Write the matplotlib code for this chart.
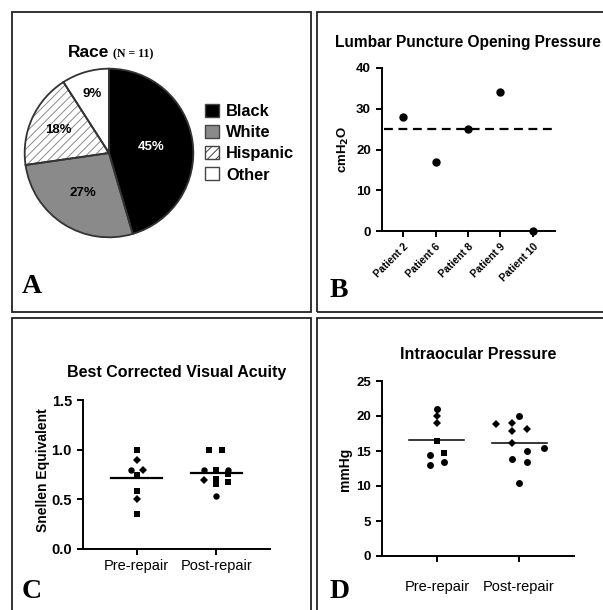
import matplotlib
matplotlib.use('Agg')
import matplotlib.pyplot as plt
from matplotlib.patches import Rectangle, Patch
import numpy as np

plt.rcParams['font.family'] = ['Liberation Sans', 'DejaVu Sans']
plt.rcParams['hatch.linewidth'] = 0.7

# --- dados ---
race_labels = ['Black', 'White', 'Hispanic', 'Other']
race_counts = [5, 3, 2, 1]          # N = 11

lp_patients = ['Patient 2', 'Patient 6', 'Patient 8', 'Patient 9', 'Patient 10']
lp_pressure = [28, 17, 25, 34, 0]   # cmH2O
lp_cutoff = 25

groups = ['Pre-repair', 'Post-repair']
va_pre = [1.0, 0.9, 0.8, 0.8, 0.75, 0.58, 0.5, 0.35]
va_post = [1.0, 1.0, 0.8, 0.8, 0.8, 0.76, 0.7, 0.69, 0.67, 0.65, 0.53]
iop_pre = [21, 20, 19, 16.4, 14.5, 14.7, 13.0, 13.5]
iop_post = [20, 18.8, 19, 17.9, 18.1, 16.1, 15.4, 15.0, 13.9, 13.5, 10.4]

# --- espalhamento horizontal e marcadores (estilo) ---
va_pre_dx = [0, 0, -0.075, 0.075, 0, 0, 0, 0]
va_post_dx = [-0.09, 0.07, -0.16, 0, 0.14, 0.14, 0, -0.16, 0.14, 0, 0]
va_pre_mk = ['s', 'D', 'o', 'D', 's', 's', 'D', 's']
va_post_mk = ['s', 's', 'o', 's', 'o', 's', 's', 'D', 's', 's', 'o']
iop_pre_dx = [0, 0, 0, 0, -0.085, 0.08, -0.085, 0.08]
iop_post_dx = [0, -0.28, -0.09, -0.09, 0.1, -0.09, 0.3, 0.1, -0.09, 0.1, 0]
iop_pre_mk = ['o', 'D', 'D', 's', 'o', 's', 'o', 'o']
iop_post_mk = ['o', 'D', 'D', 'D', 'D', 'D', 'o', 'o', 'o', 'o', 'o']

W, H = 603, 610


def box(l, t, r, b):
    return [l / W, 1 - b / H, (r - l) / W, (b - t) / H]


def fx(px):
    return px / W


def fy(py):
    return 1 - py / H


fig = plt.figure(figsize=(W / 100, H / 100), dpi=100, facecolor='white')

# molduras dos paineis
for l, t, r, b in [(12, 12, 311, 312), (317, 12, 620, 312),
                   (12, 318, 311, 630), (317, 318, 620, 630)]:
    fig.add_artist(Rectangle((l / W, 1 - b / H), (r - l) / W, (b - t) / H,
                             transform=fig.transFigure, fill=False,
                             lw=1.3, ec='#222222'))

# ==================== A: pizza ====================
ax_a = fig.add_axes(box(23, 67, 195, 239))
colors = ['black', '#8a8a8a', 'white', 'white']
hatches = ['', '', '////', '']
wedges, texts, autotexts = ax_a.pie(race_counts, colors=colors, startangle=90,
                                    counterclock=False, autopct='%1.0f%%',
                                    pctdistance=0.6,
                                    wedgeprops=dict(lw=0, ec='#8a8a8a'))
for w, h in zip(wedges, hatches):
    w.set_hatch(h)
ax_a.pie(race_counts, colors=['none'] * 4, startangle=90, counterclock=False,
         wedgeprops=dict(lw=1.3, ec='#333333'))
label_r = [0.51, 0.57, 0.66, 0.73]
for w, t, r in zip(wedges, autotexts, label_r):
    ang = np.deg2rad((w.theta1 + w.theta2) / 2)
    t.set_position((r * np.cos(ang), r * np.sin(ang)))
    t.set_fontsize(9.5)
    t.set_fontweight('bold')
autotexts[0].set_color('white')
ax_a.set_xlim(-1.02, 1.02)
ax_a.set_ylim(-1.02, 1.02)
ax_a.set_aspect('equal')

handles = [Patch(facecolor=c, edgecolor='#444444', hatch=h, lw=1.0)
           for c, h in zip(['black', '#8a8a8a', 'white', 'white'], hatches)]
fig.legend(handles, race_labels, loc='upper left',
           bbox_to_anchor=(fx(205), fy(104)), frameon=False,
           prop=dict(size=11.8, weight='bold'), handlelength=0.85,
           handleheight=0.85, handletextpad=0.45, labelspacing=0.36,
           borderpad=0, borderaxespad=0)

fig.text(fx(68), fy(57), 'Race', fontsize=12.5, fontweight='bold', va='baseline')
fig.text(fx(113), fy(57), '(N = 11)', fontsize=8.5, fontweight='bold',
         family='Liberation Serif', va='baseline')


def style_axes(ax, tick_size):
    for s in ['top', 'right']:
        ax.spines[s].set_visible(False)
    for s in ['left', 'bottom']:
        ax.spines[s].set_linewidth(1.4)
    ax.tick_params(direction='out', length=4.5, width=1.4, labelsize=tick_size)
    for lab in ax.get_yticklabels():
        lab.set_fontweight('bold')


# ==================== B: pressao de abertura ====================
ax_b = fig.add_axes(box(382, 68, 555, 231))
xb = np.arange(1, len(lp_pressure) + 1)
ax_b.plot(xb, lp_pressure, 'o', color='black', ms=5, clip_on=False, zorder=3)
ax_b.axhline(lp_cutoff, xmin=0.01, xmax=0.985, color='black', lw=1.6,
             ls=(0, (4, 2.5)))
ax_b.set_xlim(0.35, 5.68)
ax_b.set_ylim(0, 40)
ax_b.set_yticks([0, 10, 20, 30, 40])
ax_b.set_xticks(xb)
style_axes(ax_b, 9.5)
ax_b.set_xticklabels(lp_patients, rotation=45, ha='right',
                     rotation_mode='anchor', fontsize=7.5, fontweight='bold')
ax_b.tick_params(axis='x', pad=3)
ax_b.set_ylabel('cmH$_\\mathbf{2}$O', fontsize=9.5, fontweight='bold',
                va='center')
ax_b.yaxis.set_label_coords(-0.225, 0.5)
fig.text(fx(468), fy(47), 'Lumbar Puncture Opening Pressure', fontsize=11.2,
         fontweight='bold', ha='center', va='baseline')


def scatter_group(ax, x0, vals, dxs, mks, ms):
    for v, dx, mk in zip(vals, dxs, mks):
        size = ms * 0.85 if mk == 'D' else ms
        ax.plot(x0 + dx, v, mk, color='black', ms=size, mew=0, clip_on=False,
                zorder=3)


# ==================== C: acuidade visual ====================
ax_c = fig.add_axes(box(83, 400, 270, 549))
scatter_group(ax_c, 1, va_pre, va_pre_dx, va_pre_mk, 4.6)
scatter_group(ax_c, 2, va_post, va_post_dx, va_post_mk, 4.6)
for x0, vals in zip([1, 2], [va_pre, va_post]):
    ax_c.plot([x0 - 0.32, x0 + 0.32], [np.mean(vals)] * 2, color='black',
              lw=1.6, zorder=2)
ax_c.set_xlim(0.33, 2.67)
ax_c.set_ylim(0, 1.5)
ax_c.set_yticks([0.0, 0.5, 1.0, 1.5])
ax_c.yaxis.set_major_formatter(matplotlib.ticker.FormatStrFormatter('%.1f'))
ax_c.set_xticks([1, 2])
style_axes(ax_c, 10.5)
ax_c.set_xticklabels(groups, fontsize=10.5)
ax_c.tick_params(axis='x', pad=3)
ax_c.set_ylabel('Snellen Equivalent', fontsize=10, fontweight='bold', va='center')
ax_c.yaxis.set_label_coords(-0.214, 0.53)
fig.text(fx(176.5), fy(377), 'Best Corrected Visual Acuity', fontsize=11.5,
         fontweight='bold', ha='center', va='baseline')

# ==================== D: pressao intraocular ====================
ax_d = fig.add_axes(box(382, 381, 574, 556))
scatter_group(ax_d, 1, iop_pre, iop_pre_dx, iop_pre_mk, 5.0)
scatter_group(ax_d, 2, iop_post, iop_post_dx, iop_post_mk, 5.0)
for x0, vals in zip([1, 2], [iop_pre, iop_post]):
    ax_d.plot([x0 - 0.335, x0 + 0.335], [np.mean(vals)] * 2, color='black',
              lw=1.1, zorder=2)
ax_d.set_xlim(0.33, 2.67)
ax_d.set_ylim(0, 25)
ax_d.set_yticks([0, 5, 10, 15, 20, 25])
ax_d.set_xticks([1, 2])
style_axes(ax_d, 9.5)
ax_d.set_xticklabels(groups, fontsize=10.5)
ax_d.tick_params(axis='x', pad=13)
ax_d.set_ylabel('mmHg', fontsize=10, fontweight='bold', va='center')
ax_d.yaxis.set_label_coords(-0.193, 0.494)
fig.text(fx(478.5), fy(359), 'Intraocular Pressure', fontsize=11.5,
         fontweight='bold', ha='center', va='baseline')

# letras dos paineis
for letter, x, y in [('A', 22, 293), ('B', 330, 297), ('C', 22, 598), ('D', 330, 598)]:
    fig.text(fx(x), fy(y), letter, fontsize=20, fontweight='bold',
             family='Liberation Serif', va='baseline')

fig.savefig('out.png', dpi=100)
